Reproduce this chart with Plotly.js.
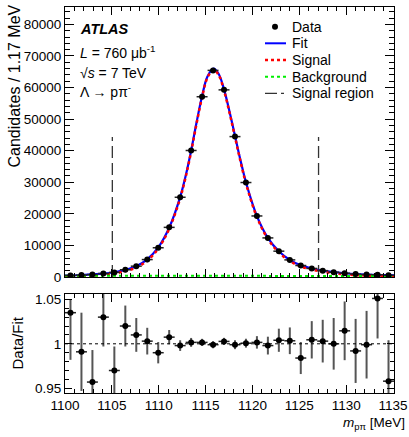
<!DOCTYPE html>
<html><head><meta charset="utf-8">
<script src="https://cdn.plot.ly/plotly-3.0.1.min.js"></script>
<style>html,body{margin:0;padding:0;background:#fff}#chart{width:409px;height:437px}</style>
</head><body><div id="chart"></div>
<script>
// ---- data ----
const binCenters = [1100.585, 1101.755, 1102.925, 1104.095, 1105.265, 1106.435, 1107.605, 1108.775, 1109.945, 1111.115,
  1112.285, 1113.455, 1114.625, 1115.795, 1116.965, 1118.135, 1119.305, 1120.475, 1121.645, 1122.815,
  1123.985, 1125.155, 1126.325, 1127.495, 1128.665, 1129.835, 1131.005, 1132.175, 1133.345, 1134.515];
const binHalfWidth = 0.585;
const dataY = [490, 610, 770, 1090, 1460, 2300, 3430, 5520, 9260, 15720,
  25250, 40060, 57090, 65430, 59260, 44460, 29920, 19330, 12380, 8180,
  5420, 3640, 2710, 2010, 1520, 1200, 930, 780, 690, 550];

const fitX = [1100.0, 1100.585, 1101.755, 1102.925, 1104.095, 1105.265, 1106.435, 1107.605, 1108.775, 1109.945,
  1111.115, 1112.285, 1112.87, 1113.455, 1114.04, 1114.625, 1115.2, 1115.85, 1116.4, 1116.965,
  1117.55, 1118.135, 1118.72, 1119.305, 1120.475, 1121.645, 1122.815, 1123.985, 1125.155, 1126.325,
  1127.495, 1128.665, 1129.835, 1131.005, 1132.175, 1133.345, 1134.515, 1135.1];
const fitY = [420, 470, 610, 800, 1060, 1500, 2250, 3400, 5550, 9350,
  15600, 25300, 32000, 40000, 49000, 57300, 63500, 66000, 64300, 59400,
  52400, 44700, 37000, 30000, 19300, 12400, 8150, 5400, 3700, 2700,
  2000, 1520, 1180, 940, 780, 660, 570, 540];
const signalY = [20, 70, 215, 405, 670, 1110, 1865, 3015, 5170, 8970,
  15220, 24925, 31625, 39625, 48630, 56930, 63130, 65630, 63930, 59035,
  52035, 44335, 36635, 29640, 18940, 12045, 7795, 5050, 3350, 2355,
  1655, 1175, 840, 600, 445, 325, 240, 210];
const bgX = [1100, 1105, 1110, 1115, 1120, 1125, 1130, 1135.1];
const bgY = [400, 390, 380, 370, 360, 350, 340, 330];

const sigRegionX = [1105.05, 1127.05];
const sigRegionTop = 44300;

const ratioY = [1.035, 0.991, 0.957, 1.030, 0.970, 1.020, 1.010, 1.003, 0.990, 1.0075,
  0.998, 1.0016, 1.0016, 0.999, 1.0027, 0.999, 1.0007, 1.0016, 0.998, 1.004,
  1.0034, 0.984, 1.0045, 1.003, 1.000, 1.0146, 0.992, 0.999, 1.051, 0.958];
const ratioErrUp = [0.015, 0.044, 0.036, 0.033, 0.027, 0.023, 0.019, 0.015, 0.012, 0.008,
  0.006, 0.005, 0.004, 0.004, 0.004, 0.005, 0.005, 0.007, 0.010, 0.013,
  0.015, 0.018, 0.021, 0.024, 0.029, 0.033, 0.036, 0.038, 0.045, 0.046];
const ratioErrDown = [0.053, 0.044, 0.036, 0.033, 0.027, 0.023, 0.019, 0.015, 0.012, 0.008,
  0.006, 0.005, 0.004, 0.004, 0.004, 0.005, 0.005, 0.007, 0.010, 0.013,
  0.015, 0.018, 0.021, 0.024, 0.029, 0.033, 0.036, 0.038, 0.045, 0.046];

const xTickVals = [1100, 1105, 1110, 1115, 1120, 1125, 1130, 1135];
const ratioTickVals = [0.95, 1, 1.05];
const ratioTickText = ['0.95', '1', '1.05'];
const legendLabels = ['Data', 'Fit', 'Signal', 'Background', 'Signal region'];

// ---- layout helpers (pixel geometry) ----
const L = 65, R = 394, T = 7, B = 393;
const MAIN_BOTTOM = 277, RATIO_TOP = 294;
const px = x => (x - L) / (R - L);
const py = y => (B - y) / (B - T);
const FONT = '"Liberation Sans", Arial, sans-serif';
const TICK = 13.5, TXT = 14;

const halfW = binCenters.map(() => binHalfWidth);

const traces = [
  {x: fitX, y: fitY, mode: 'lines', line: {color: '#0000ff', width: 2.2, shape: 'spline', smoothing: 1}, xaxis: 'x', yaxis: 'y', hoverinfo: 'skip'},
  {x: fitX, y: signalY, mode: 'lines', line: {color: '#ff0000', width: 2.5, dash: 'dot', shape: 'spline', smoothing: 1}, xaxis: 'x', yaxis: 'y'},
  {x: bgX, y: bgY, mode: 'lines', line: {color: '#00ee00', width: 2, dash: 'dot'}, xaxis: 'x', yaxis: 'y'},
  {x: [sigRegionX[0], sigRegionX[0]], y: [0, sigRegionTop], mode: 'lines', line: {color: '#333', width: 1.3, dash: '12px,5px'}, xaxis: 'x', yaxis: 'y'},
  {x: [sigRegionX[1], sigRegionX[1]], y: [0, sigRegionTop], mode: 'lines', line: {color: '#333', width: 1.3, dash: '12px,5px'}, xaxis: 'x', yaxis: 'y'},
  {x: binCenters, y: dataY, mode: 'markers', marker: {color: '#000', size: 6},
   error_x: {type: 'data', array: halfW, width: 0, thickness: 1.5, color: '#222'}, xaxis: 'x', yaxis: 'y'},
  {x: binCenters, y: ratioY, mode: 'markers', marker: {color: '#000', size: 6},
   error_x: {type: 'data', array: halfW, width: 0, thickness: 1.5, color: '#222'},
   error_y: {type: 'data', symmetric: false, array: ratioErrUp, arrayminus: ratioErrDown, width: 0, thickness: 2, color: '#555'},
   xaxis: 'x2', yaxis: 'y2'}
];

const axBase = {showline: true, linecolor: '#000', linewidth: 1, mirror: 'ticks', ticks: 'inside',
  tickcolor: '#000', tickwidth: 1, showgrid: false, zeroline: false, ticklabeloverflow: 'allow',
  tickfont: {family: FONT, size: TICK, color: '#000'}};

const layout = {
  width: 409, height: 437,
  margin: {l: L, r: 409 - R, t: T, b: 437 - B, pad: 0},
  paper_bgcolor: '#fff', plot_bgcolor: '#fff', showlegend: false,
  font: {family: FONT, size: TXT, color: '#000'},
  xaxis: Object.assign({}, axBase, {anchor: 'y', domain: [0, 1], range: [1100, 1135.1], tickmode: 'array', tickvals: xTickVals,
    showticklabels: false, ticklen: 8, minor: {ticks: 'inside', ticklen: 4, dtick: 1, tick0: 1100, tickcolor: '#000'}}),
  yaxis: Object.assign({}, axBase, {anchor: 'x', domain: [py(MAIN_BOTTOM), 1], range: [0, 85500], dtick: 10000, tick0: 0,
    tickformat: 'd', ticklen: 9, minor: {ticks: 'inside', ticklen: 5, dtick: 2000, tick0: 0, tickcolor: '#000'}}),
  xaxis2: Object.assign({}, axBase, {anchor: 'y2', domain: [0, 1], range: [1100, 1135.1], tickmode: 'array', tickvals: xTickVals,
    ticklen: 8, minor: {ticks: 'inside', ticklen: 4, dtick: 1, tick0: 1100, tickcolor: '#000'}}),
  yaxis2: Object.assign({}, axBase, {anchor: 'x2', domain: [0, py(RATIO_TOP)], range: [0.9447, 1.056], tickmode: 'array',
    tickvals: ratioTickVals, ticktext: ratioTickText, ticklen: 7, minor: {ticks: 'inside', ticklen: 4, dtick: 0.01, tick0: 0.95, tickcolor: '#000'}}),
  shapes: [
    {type: 'line', xref: 'paper', yref: 'y2', x0: 0, x1: 1, y0: 1, y1: 1, line: {color: '#000', width: 1, dash: 'dot'}},
    // legend samples
    {type: 'circle', xref: 'paper', yref: 'paper', x0: px(272), x1: px(278), y0: py(29.7), y1: py(23.7), fillcolor: '#000', line: {width: 0}},
    {type: 'line', xref: 'paper', yref: 'paper', x0: px(265), x1: px(286), y0: py(43.3), y1: py(43.3), line: {color: '#0000ff', width: 2}},
    {type: 'line', xref: 'paper', yref: 'paper', x0: px(265), x1: px(286), y0: py(60), y1: py(60), line: {color: '#ff0000', width: 2.5, dash: 'dot'}},
    {type: 'line', xref: 'paper', yref: 'paper', x0: px(265), x1: px(286), y0: py(76.7), y1: py(76.7), line: {color: '#00ee00', width: 2, dash: 'dot'}},
    {type: 'line', xref: 'paper', yref: 'paper', x0: px(265), x1: px(286), y0: py(93.3), y1: py(93.3), line: {color: '#333', width: 1.3, dash: '12px,4px,3px,4px'}}
  ],
  annotations: [
    {xref: 'paper', yref: 'paper', x: px(78), y: py(29.3), xanchor: 'left', yanchor: 'middle', showarrow: false,
     text: '<b><i>ATLAS</i></b>', font: {family: FONT, size: 14.5}},
    {xref: 'paper', yref: 'paper', x: px(78), y: py(52), xanchor: 'left', yanchor: 'middle', showarrow: false,
     text: '<i>L</i> = 760 μb<sup>-1</sup>', font: {family: FONT, size: TXT}},
    {xref: 'paper', yref: 'paper', x: px(78), y: py(72.5), xanchor: 'left', yanchor: 'middle', showarrow: false,
     text: '√<i>s</i> = 7 TeV', font: {family: FONT, size: TXT}},
    {xref: 'paper', yref: 'paper', x: px(78), y: py(91), xanchor: 'left', yanchor: 'middle', showarrow: false,
     text: 'Λ → pπ<sup>-</sup>', font: {family: FONT, size: TXT}},
    ...legendLabels.map((t, i) => ({xref: 'paper', yref: 'paper', x: px(290), y: py([26.7, 43.3, 60, 76.7, 93.3][i]),
      xanchor: 'left', yanchor: 'middle', showarrow: false, text: t, font: {family: FONT, size: TXT}})),
    {xref: 'paper', yref: 'paper', x: px(14), y: py(86.5), xanchor: 'center', yanchor: 'middle', showarrow: false, textangle: -90,
     text: 'Candidates / 1.17 MeV', font: {family: FONT, size: 16}},
    {xref: 'paper', yref: 'paper', x: px(17), y: py(343.5), xanchor: 'center', yanchor: 'middle', showarrow: false, textangle: -90,
     text: 'Data/Fit', font: {family: FONT, size: 15}},
    {xref: 'paper', yref: 'paper', x: px(407), y: py(423), xanchor: 'right', yanchor: 'middle', showarrow: false,
     text: '<i>m</i><sub>pπ</sub> [MeV]', font: {family: FONT, size: 13.5}}
  ]
};

Plotly.newPlot('chart', traces, layout, {staticPlot: true, displayModeBar: false});
</script>
</body></html>
